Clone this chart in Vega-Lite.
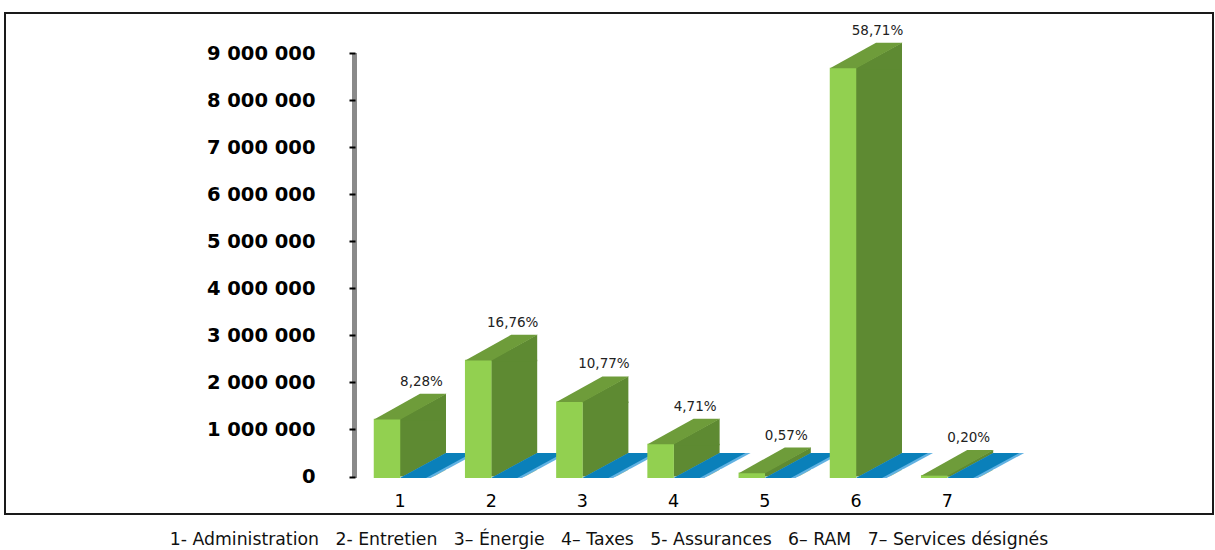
{
  "$schema": "https://vega.github.io/schema/vega-lite/v6.json",
  "width": 1208,
  "height": 501,
  "padding": {"left": 5, "top": 13, "right": 2, "bottom": 2},
  "background": "white",
  "view": {"stroke": "#1a1a1a", "strokeWidth": 2},
  "title": {
    "text": "1- Administration\u00a0\u00a0 2- Entretien\u00a0\u00a0 3– Énergie\u00a0\u00a0 4– Taxes\u00a0\u00a0 5- Assurances\u00a0\u00a0 6– RAM\u00a0\u00a0 7– Services désignés",
    "orient": "bottom",
    "anchor": "middle",
    "offset": 17,
    "baseline": "top",
    "font": "DejaVu Sans",
    "fontSize": 17.3,
    "fontWeight": "normal",
    "color": "#111111"
  },
  "data": {
    "values": [
      {"cat": "1", "serie": "A", "value": 1225440, "pct": "8,28%"},
      {"cat": "2", "serie": "A", "value": 2480480, "pct": "16,76%"},
      {"cat": "3", "serie": "A", "value": 1593960, "pct": "10,77%"},
      {"cat": "4", "serie": "A", "value": 697080, "pct": "4,71%"},
      {"cat": "5", "serie": "A", "value": 84360, "pct": "0,57%"},
      {"cat": "6", "serie": "A", "value": 8689080, "pct": "58,71%"},
      {"cat": "7", "serie": "A", "value": 29600, "pct": "0,20%"},
      {"cat": "1", "serie": "B", "value": 0, "pct": ""},
      {"cat": "2", "serie": "B", "value": 0, "pct": ""},
      {"cat": "3", "serie": "B", "value": 0, "pct": ""},
      {"cat": "4", "serie": "B", "value": 0, "pct": ""},
      {"cat": "5", "serie": "B", "value": 0, "pct": ""},
      {"cat": "6", "serie": "B", "value": 0, "pct": ""},
      {"cat": "7", "serie": "B", "value": 0, "pct": ""}
    ]
  },
  "encoding": {
    "x": {
      "field": "cat",
      "type": "nominal",
      "scale": {"domain": ["1", "2", "3", "4", "5", "6", "7"], "paddingInner": 0, "paddingOuter": 0, "range": [349.4, 987.8]},
      "axis": {
        "title": null,
        "orient": "bottom",
        "offset": -36,
        "domain": false,
        "ticks": false,
        "tickSize": 0,
        "labelPadding": 14,
        "labelAngle": 0,
        "labelFont": "DejaVu Sans",
        "labelFontSize": 17.5,
        "labelColor": "#000000",
        "grid": false
      }
    },
    "y": {
      "field": "value",
      "type": "quantitative",
      "scale": {"domain": [-796933, 9850174], "nice": false, "zero": false},
      "axis": {
        "title": null,
        "values": [0, 1000000, 2000000, 3000000, 4000000, 5000000, 6000000, 7000000, 8000000, 9000000],
        "labelExpr": "datum.value == 0 ? '0' : (datum.value / 1000000) + ' 000 000'",
        "offset": -350,
        "domain": false,
        "grid": false,
        "ticks": true,
        "tickSize": 6,
        "tickWidth": 2,
        "tickColor": "#000000",
        "labelPadding": 34,
        "labelFont": "DejaVu Sans",
        "labelFontWeight": "bold",
        "labelFontSize": 19.5,
        "labelColor": "#000000",
        "zindex": 1
      }
    }
  },
  "layer": [
    {
      "transform": [{"filter": "datum.serie === 'A' && datum.cat === '1'"}],
      "mark": {"type": "rule", "xOffset": -45.5, "y2Offset": 1.5, "strokeWidth": 5, "color": "#8A8A8A"},
      "encoding": {
        "y": {"datum": 9000000, "type": "quantitative"},
        "y2": {"datum": 0}
      }
    },
    {
      "transform": [{"filter": "datum.serie === 'A'"}],
      "mark": {"type": "bar", "width": 46, "xOffset": 23, "color": "#5E8A32"},
      "encoding": {"y2": {"datum": 0}}
    },
    {
      "transform": [{"filter": "datum.serie === 'A'"}],
      "mark": {"type": "point", "shape": "M0,1.5L0,0L46,-25L46,1.5Z", "size": 4, "filled": true, "opacity": 1, "strokeWidth": 0, "color": "#5E8A32"}
    },
    {
      "transform": [{"filter": "datum.serie === 'B'"}],
      "mark": {"type": "point", "shape": "M0,1.5L31,1.5L77,-23.5L46,-23.5Z", "size": 4, "filled": true, "opacity": 1, "strokeWidth": 0, "color": "#62B2E2"}
    },
    {
      "transform": [{"filter": "datum.serie === 'B'"}],
      "mark": {"type": "point", "shape": "M0,1.5L26,1.5L72,-23.5L46,-23.5Z", "size": 4, "filled": true, "opacity": 1, "strokeWidth": 0, "color": "#0A80BA"}
    },
    {
      "transform": [{"filter": "datum.serie === 'B'"}],
      "mark": {"type": "point", "shape": "M31,1.5L48,1.5L48,-7.8Z", "size": 4, "filled": true, "opacity": 1, "strokeWidth": 0, "color": "#ffffff"}
    },
    {
      "transform": [{"filter": "datum.serie === 'A'"}],
      "mark": {"type": "bar", "width": 26.5, "xOffset": -13, "y2Offset": 1.5, "color": "#92D050"},
      "encoding": {"y2": {"datum": 0}}
    },
    {
      "transform": [{"filter": "datum.serie === 'A'"}],
      "mark": {"type": "point", "shape": "M-26,0.6L0.5,0.6L46.5,-25L20,-25Z", "size": 4, "filled": true, "opacity": 1, "strokeWidth": 0, "color": "#6E9C3A"}
    },
    {
      "transform": [{"filter": "datum.serie === 'A'"}],
      "mark": {"type": "text", "dx": 21.5, "dy": -33, "align": "center", "baseline": "alphabetic", "font": "DejaVu Sans", "fontSize": 13.5, "color": "#222222"},
      "encoding": {"text": {"field": "pct"}}
    }
  ]
}
